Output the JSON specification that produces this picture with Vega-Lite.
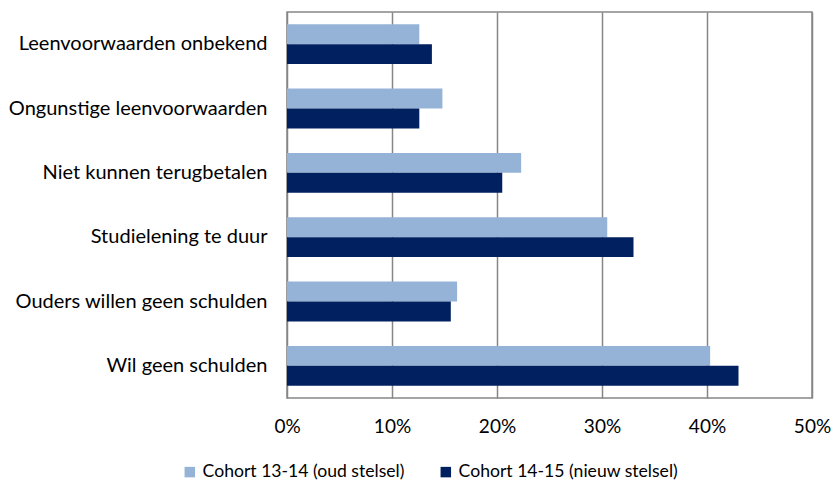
{
  "$schema": "https://vega.github.io/schema/vega-lite/v6.json",
  "width": 525,
  "height": 386,
  "autosize": {"type": "none"},
  "padding": {"left": 287, "top": 12, "right": 22, "bottom": 86},
  "background": "white",
  "config": {
    "font": "Lato",
    "view": {"stroke": "#868686", "strokeWidth": 1.5},
    "axis": {"labelFont": "Lato", "labelColor": "#000000"},
    "legend": {"labelFont": "Lato", "labelColor": "#000000"}
  },
  "data": {
    "values": [
      {"reden": "Leenvoorwaarden onbekend", "cohort": "Cohort 13-14 (oud stelsel)", "pct": 0.126},
      {"reden": "Leenvoorwaarden onbekend", "cohort": "Cohort 14-15 (nieuw stelsel)", "pct": 0.138},
      {"reden": "Ongunstige leenvoorwaarden", "cohort": "Cohort 13-14 (oud stelsel)", "pct": 0.148},
      {"reden": "Ongunstige leenvoorwaarden", "cohort": "Cohort 14-15 (nieuw stelsel)", "pct": 0.126},
      {"reden": "Niet kunnen terugbetalen", "cohort": "Cohort 13-14 (oud stelsel)", "pct": 0.223},
      {"reden": "Niet kunnen terugbetalen", "cohort": "Cohort 14-15 (nieuw stelsel)", "pct": 0.205},
      {"reden": "Studielening te duur", "cohort": "Cohort 13-14 (oud stelsel)", "pct": 0.305},
      {"reden": "Studielening te duur", "cohort": "Cohort 14-15 (nieuw stelsel)", "pct": 0.330},
      {"reden": "Ouders willen geen schulden", "cohort": "Cohort 13-14 (oud stelsel)", "pct": 0.162},
      {"reden": "Ouders willen geen schulden", "cohort": "Cohort 14-15 (nieuw stelsel)", "pct": 0.156},
      {"reden": "Wil geen schulden", "cohort": "Cohort 13-14 (oud stelsel)", "pct": 0.403},
      {"reden": "Wil geen schulden", "cohort": "Cohort 14-15 (nieuw stelsel)", "pct": 0.430}
    ]
  },
  "mark": {"type": "bar"},
  "encoding": {
    "y": {
      "field": "reden",
      "type": "nominal",
      "sort": null,
      "scale": {"paddingInner": 0.38, "paddingOuter": 0.19},
      "axis": {
        "title": null,
        "ticks": false,
        "domain": false,
        "labelFontSize": 20,
        "labelPadding": 20,
        "labelLimit": 300
      }
    },
    "yOffset": {"field": "cohort", "type": "nominal", "sort": null},
    "x": {
      "field": "pct",
      "type": "quantitative",
      "scale": {"domain": [0, 0.5], "nice": false},
      "axis": {
        "title": null,
        "format": ".0%",
        "values": [0, 0.1, 0.2, 0.3, 0.4, 0.5],
        "labelOverlap": false,
        "ticks": false,
        "domain": false,
        "grid": true,
        "gridColor": "#868686",
        "gridWidth": 1.5,
        "gridOpacity": 1,
        "labelFontSize": 19,
        "labelPadding": 19,
        "labelFlush": false
      }
    },
    "color": {
      "field": "cohort",
      "type": "nominal",
      "sort": null,
      "scale": {"range": ["#95B3D7", "#002060"]},
      "legend": {
        "title": null,
        "orient": "none",
        "legendX": -106,
        "legendY": 451,
        "direction": "horizontal",
        "columns": 2,
        "columnPadding": 32,
        "symbolType": "square",
        "symbolSize": 110,
        "symbolStrokeWidth": 0,
        "labelFontSize": 17.6,
        "labelOffset": 4,
        "labelLimit": 300
      }
    }
  }
}
